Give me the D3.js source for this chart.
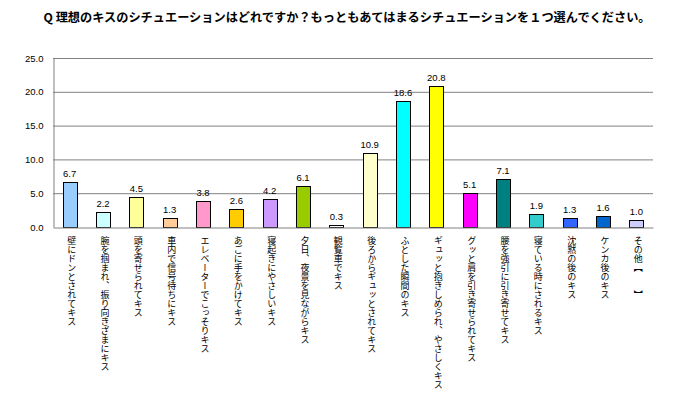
<!DOCTYPE html>
<html><head><meta charset="utf-8">
<script src="https://cdn.jsdelivr.net/npm/d3@7"></script>
<style>body{margin:0;background:#fff}</style>
</head><body><svg id="c" width="695" height="402"></svg>
<script>
const title = "Q 理想のキスのシチュエーションはどれですか？もっともあてはまるシチュエーションを１つ選んでください。";
const categories = [
  "壁にドンとされてキス",
  "腕を掴まれ、振り向きざまにキス",
  "頭を寄せられてキス",
  "車内で信号待ちにキス",
  "エレベーターでこっそりキス",
  "あごに手をかけてキス",
  "寝起きにやさしいキス",
  "夕日、夜景を見ながらキス",
  "観覧車でキス",
  "後ろからギュッとされてキス",
  "ふとした瞬間のキス",
  "ギュッと抱きしめられ、やさしくキス",
  "グッと肩を引き寄せられてキス",
  "腰を強引に引き寄せてキス",
  "寝ている時にされるキス",
  "沈黙の後のキス",
  "ケンカ後のキス",
  "その他【　　】"
];
const values = [6.7, 2.2, 4.5, 1.3, 3.8, 2.6, 4.2, 6.1, 0.3, 10.9, 18.6, 20.8, 5.1, 7.1, 1.9, 1.3, 1.6, 1.0];
const colors = ["#99CCFF","#CCFFFF","#FFFF99","#FFCC99","#FF99CC","#FFCC00","#CC99FF","#99CC00","#FFFFFF",
                "#FFFFCC","#00FFFF","#FFFF00","#FF00FF","#008080","#33CCCC","#3366FF","#0066CC","#CCCCFF"];
const yTicks = [0, 5, 10, 15, 20, 25];

const svg = d3.select("#c");
const L = 53, R = 653, T = 58, B = 227;
const x = d3.scaleBand().domain(categories).range([L, R]).paddingInner(0.58).paddingOuter(0.29);
const y = d3.scaleLinear().domain([0, 25]).range([B, T]);

svg.append("text").attr("x", 347).attr("y", 22).attr("text-anchor", "middle")
  .attr("font-family", "'Noto Sans CJK JP'").attr("font-weight", "bold").attr("font-size", 12.2)
  .attr("fill", "#000").text(title);

// gridlines
svg.append("g").selectAll("line").data(yTicks.filter(d => d > 0)).join("line")
  .attr("x1", L).attr("x2", R).attr("y1", d => y(d) + 0.5).attr("y2", d => y(d) + 0.5)
  .attr("stroke", "#808080").attr("stroke-width", 1);

// y axis
const ya = svg.append("g").attr("transform", `translate(${L + 0.5},0)`)
  .call(d3.axisLeft(y).tickValues(yTicks).tickSize(0).tickPadding(10).tickFormat(d3.format(".1f")));
ya.select(".domain").attr("stroke", "#808080");
ya.selectAll("text").attr("font-family", "'Liberation Sans', Arial").attr("font-size", 9.5).attr("fill", "#000")
  .attr("dy", "0.32em");

// bars
svg.append("g").selectAll("rect").data(values).join("rect")
  .attr("x", (d, i) => Math.round(x(categories[i])) + 0.5)
  .attr("y", d => Math.round(y(d)) + 0.5)
  .attr("width", Math.round(x.bandwidth()))
  .attr("height", d => B - Math.round(y(d)))
  .attr("fill", (d, i) => colors[i]).attr("stroke", "#000").attr("stroke-width", 1);

// x axis
const xa = svg.append("g").attr("transform", `translate(0,${B + 0.5})`)
  .call(d3.axisBottom(x).tickSize(0).tickFormat(""));
xa.select(".domain").attr("stroke", "#808080");

// value labels
svg.append("g").selectAll("text").data(values).join("text")
  .attr("x", (d, i) => x(categories[i]) + x.bandwidth() / 2)
  .attr("y", d => y(d) - 5)
  .attr("text-anchor", "middle").attr("font-family", "'Liberation Sans', Arial").attr("font-size", 9.5)
  .text(d => d3.format(".1f")(d));

// category labels (vertical)
svg.append("g").selectAll("text").data(categories).join("text")
  .attr("x", d => x(d) + x.bandwidth() / 2 + 2)
  .attr("y", 236)
  .style("writing-mode", "vertical-rl")
  .attr("font-family", "'Noto Sans CJK JP'").attr("font-size", 9)
  .attr("fill", "#000")
  .text(d => d);
</script>
</body></html>
